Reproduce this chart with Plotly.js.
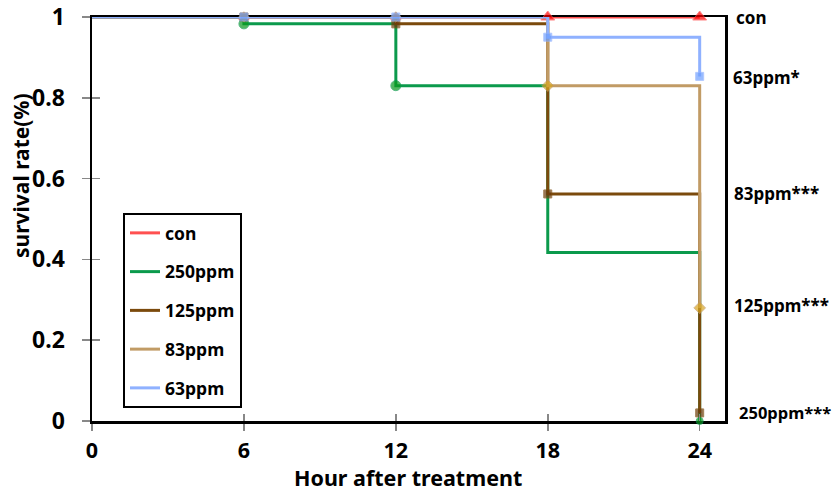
<!DOCTYPE html>
<html>
<head>
<meta charset="utf-8">
<script src="https://cdn.plot.ly/plotly-3.0.1.min.js"></script>
<style>html,body{margin:0;padding:0;background:#fff;}#chart{width:834px;height:492px;}</style>
</head>
<body>
<div id="chart"></div>
<script>
// ---- Data ----
const hours = [0, 6, 12, 18, 24];
const seriesNames = ["con", "250ppm", "125ppm", "83ppm", "63ppm"];
const conVals = [1, 1, 1, 1, 1];
const ppm250Vals = [1, 0.983, 0.83, 0.417, 0];
const ppm125Vals = [1, 1, 0.983, 0.562, 0.02];
const ppm83Vals = [1, 1, 1, 0.83, 0.28];
const ppm63Vals = [1, 1, 1, 0.95, 0.853];
const xTickVals = [0, 6, 12, 18, 24];
const xTickText = ["0", "6", "12", "18", "24"];
const yTickVals = [0, 0.2, 0.4, 0.6, 0.8, 1];
const yTickText = ["0", "0.2", "0.4", "0.6", "0.8", "1"];
const sideLabels = ["con", "63ppm*", "83ppm***", "125ppm***", "250ppm***"];
const sideLabelY = [1.0, 0.851, 0.562, 0.287, 0.02];
const xTitle = "Hour after treatment";
const yTitle = "survival rate(%)";

// ---- Styles ----
const FONT = "Noto Sans, Open Sans, DejaVu Sans, sans-serif";
const styles = [
  {line: "#ff5050", marker: "#ff0000", symbol: "triangle-up", sizes: [0, 9, 9, 12, 12]},
  {line: "#0b9a4c", marker: "#0a9a1e", symbol: "circle", sizes: [0, 10, 10, 0, 7]},
  {line: "#7b4a0c", marker: "#6a3a0a", symbol: "square", sizes: [0, 8, 8, 8, 8]},
  {line: "#c19b65", marker: "#d9a520", symbol: "diamond", sizes: [0, 8, 8, 9, 9]},
  {line: "#8fb1ff", marker: "#6d9fff", symbol: "square", sizes: [0, 8, 8, 8, 8]}
];
const sideOffsets = [10, 7, 8, 8, 13];
const sideSizes = [17, 17, 17, 17, 16.5];
const allVals = [conVals, ppm250Vals, ppm125Vals, ppm83Vals, ppm63Vals];

const traces = allVals.map((vals, i) => ({
  type: "scatter",
  mode: "lines+markers",
  x: hours,
  y: vals,
  name: seriesNames[i],
  showlegend: false,
  line: {color: styles[i].line, width: 3, shape: "hv"},
  marker: {color: styles[i].marker, symbol: styles[i].symbol, size: styles[i].sizes},
  cliponaxis: false
}));
// legend entries (line only)
seriesNames.forEach((n, i) => traces.push({
  type: "scatter", mode: "lines", x: [null], y: [null], name: n,
  legendgroup: "g" + i, showlegend: true,
  line: {color: styles[i].line, width: 3}
}));
// helper trace for inner tick overlays
traces.push({type: "scatter", x: [], y: [], xaxis: "x2", yaxis: "y2", showlegend: false, hoverinfo: "skip"});

const annotations = sideLabels.map((t, i) => ({
  xref: "paper", yref: "y", x: 1.0 + sideOffsets[i] / 633, y: sideLabelY[i],
  xanchor: "left", yanchor: "middle", text: t, showarrow: false, borderpad: 0,
  font: {family: FONT, size: sideSizes[i], color: "#000", weight: 700}
}));
annotations.push({
  xref: "paper", yref: "paper", x: (21 - 92) / 633, y: (421 - 176) / 404,
  xanchor: "center", yanchor: "middle", textangle: -90, text: yTitle, showarrow: false,
  font: {family: FONT, size: 21, color: "#000", weight: 700}
});
annotations.push({
  xref: "paper", yref: "paper", x: (408 - 92) / 633, y: (421 - 478) / 404,
  xanchor: "center", yanchor: "middle", text: xTitle, showarrow: false, borderpad: 0,
  font: {family: FONT, size: 21.5, color: "#000", weight: 700}
});

const layout = {
  width: 834, height: 492,
  margin: {l: 92, r: 109, t: 17, b: 71},
  paper_bgcolor: "#fff", plot_bgcolor: "#fff",
  showlegend: true,
  legend: {
    x: (123 - 92) / 633, y: (421 - 213) / 404, xanchor: "left", yanchor: "top",
    bordercolor: "#000", borderwidth: 2, bgcolor: "#fff",
    tracegroupgap: 13,
    font: {family: FONT, size: 17.5, color: "#000", weight: 700}
  },
  xaxis: {
    range: [0, 25], tickvals: xTickVals, ticktext: xTickText,
    showgrid: false, zeroline: false, layer: "below traces",
    showline: true, linecolor: "#000", linewidth: 2.5, mirror: true,
    ticks: "outside", ticklen: 7, tickcolor: "#888", tickwidth: 1.5,
    ticklabelstandoff: 2,
    tickfont: {family: FONT, size: 21.5, color: "#000", weight: 700}
  },
  yaxis: {
    range: [0, 1], tickvals: yTickVals, ticktext: yTickText,
    showgrid: false, zeroline: false, layer: "below traces",
    showline: true, linecolor: "#000", linewidth: 2.5, mirror: true,
    ticks: "outside", ticklen: 8, tickcolor: "#888", tickwidth: 1.5,
    ticklabelstandoff: 12,
    tickfont: {family: FONT, size: 23, color: "#000", weight: 700}
  },
  xaxis2: {
    overlaying: "x", anchor: "y2", range: [0, 25], tickvals: xTickVals,
    showticklabels: false, showgrid: false, zeroline: false, showline: false,
    ticks: "inside", ticklen: 7, tickcolor: "#888", tickwidth: 1.5
  },
  yaxis2: {
    overlaying: "y", anchor: "x2", range: [0, 1], tickvals: yTickVals,
    showticklabels: false, showgrid: false, zeroline: false, showline: false,
    ticks: "inside", ticklen: 8, tickcolor: "#888", tickwidth: 1.5
  },
  annotations: annotations
};

Plotly.newPlot("chart", traces, layout, {displayModeBar: false, staticPlot: true});
</script>
</body>
</html>
